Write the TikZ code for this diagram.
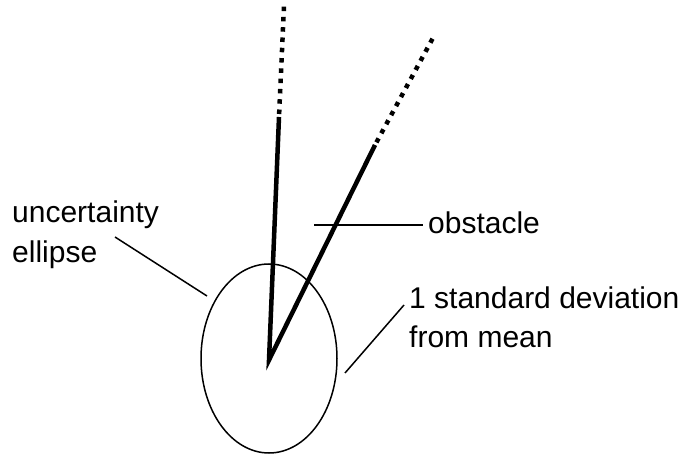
\documentclass[tikz,border=0pt]{standalone}
\usepackage{fontspec}
\setmainfont{Liberation Sans}
\usetikzlibrary{shapes.geometric}
\begin{document}
\begin{tikzpicture}[x=1pt,y=-1pt,
  lbl/.style={font=\fontsize{30}{39.5}\selectfont, inner sep=0pt, anchor=base west, align=left},
  leader/.style={line width=1.5pt},
  beam/.style={line width=4.5pt},
  beamdots/.style={line width=4.5pt, dash pattern=on 4.5pt off 5.8pt, dash phase=7.3pt}]
\useasboundingbox (0,0) rectangle (683,454);
% uncertainty ellipse
\node[draw, ellipse, line width=1.5pt, minimum width=136pt, minimum height=189pt, inner sep=0pt] (ell) at (269,358.5) {};
% obstacle beams
\coordinate (apex) at (269,360);
\coordinate (lmid) at (279,117);
\coordinate (ltop) at (284,6);
\coordinate (rmid) at (375,145);
\coordinate (rtop) at (434,36);
\draw[beam] (lmid) -- (apex) -- (rmid);
\draw[beamdots] (lmid) -- (ltop);
\draw[beamdots] (rmid) -- (rtop);
% labels (anchor at baseline of last line)
\node[lbl] (unc) at (12,262.5) {uncertainty\\ellipse};
\node[lbl] (obs) at (428,234) {obstacle};
\node[lbl] (std) at (409,348) {1 standard deviation\\from mean};
% leaders
\coordinate (uncA) at (115,237);
\coordinate (uncB) at (207,296);
\coordinate (obsA) at (314,225);
\coordinate (obsB) at (423,225);
\coordinate (stdA) at (404,305);
\coordinate (stdB) at (345,373);
\draw[leader] (uncA) -- (uncB);
\draw[leader] (obsA) -- (obsB);
\draw[leader] (stdA) -- (stdB);
\end{tikzpicture}
\end{document}
